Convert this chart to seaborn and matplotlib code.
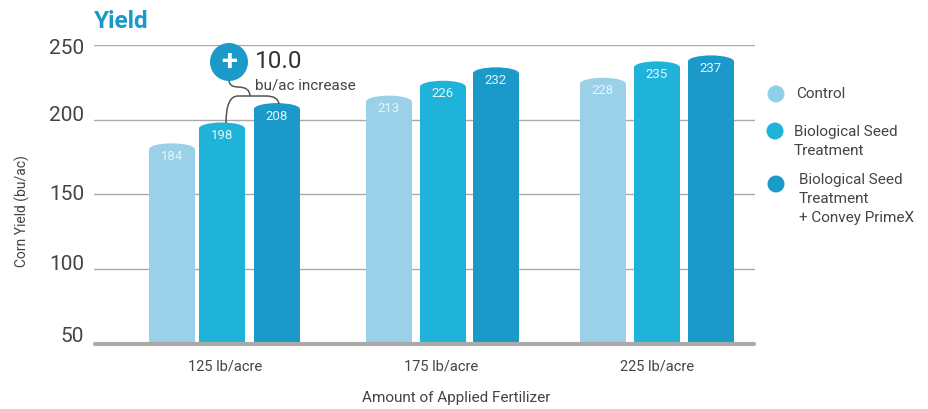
import numpy as np
import pandas as pd
import matplotlib
matplotlib.use("Agg")
import matplotlib.pyplot as plt
import seaborn as sns
from matplotlib.patches import Circle, Ellipse, PathPatch
from matplotlib.path import Path
from matplotlib.transforms import ScaledTranslation

# data
rates = ["125 lb/acre", "175 lb/acre", "225 lb/acre"]
treatments = ["Control", "Biological Seed Treatment", "Biological Seed Treatment + Convey PrimeX"]
control = [184, 213, 228]
seed = [198, 226, 235]
seed_convey = [208, 232, 237]
# the drawn bars do not quite follow their printed labels, so heights are read separately
control_top = [184, 216, 228]
seed_top = [198, 226, 239]
seed_convey_top = [211, 235, 243]
colors = ["#9ad0e8", "#20b3d9", "#1b99c8"]
yticks = [50, 100, 150, 200, 250]

df = pd.DataFrame({
    "rate": rates * 3,
    "treatment": np.repeat(treatments, 3),
    "top": control_top + seed_top + seed_convey_top,
    "label": control + seed + seed_convey,
})

sns.set_style("white")
plt.rcParams["font.family"] = ["Roboto", "DejaVu Sans"]
W, H = 929, 409
fig = plt.figure(figsize=(W / 100, H / 100), dpi=100)
ax = fig.add_axes([94 / W, 1 - 343 / H, (755 - 94) / W, (343 - 45) / H])

sns.barplot(data=df, x="rate", y="top", hue="treatment", hue_order=treatments,
            palette=colors, width=0.75, gap=0.15, saturation=1, linewidth=0,
            legend=False, ax=ax, zorder=3)
ax.set_ylim(50, 250)
ax.set_xlim(-0.606, 2.454)
sns.despine(ax=ax, left=True, bottom=True)
ax.set_yticks(yticks)
ax.grid(axis="y", color="#aaaaaa", lw=1)
ax.set_axisbelow(True)
ax.tick_params(length=0)
ax.set_xlabel("")
ax.set_ylabel("")
ax.tick_params(axis="y", labelsize=15, labelcolor="#444444", pad=7)
ax.tick_params(axis="x", labelsize=10.5, labelcolor="#444444", pad=12)

# the y labels sit a bit off their gridlines in the original
for lab, dy in zip(ax.get_yticklabels(), [8, 6, 1, 6, -2]):
    lab.set_transform(lab.get_transform() + ScaledTranslation(0, dy / 100, fig.dpi_scale_trans))

# rounded bar tops + value labels, with the uneven spacing of the original
cap = 4
px_per_unit = 216
nudge = [1, 2, 0, -3, 2, 0, -2, 1, 0]
bars = ax.patches[:9]
for bar, color, label, dx in zip(bars, np.repeat(colors, 3), df["label"], nudge):
    top = bar.get_height()
    bar.set_height(top - cap)
    bar.set_x(bar.get_x() + dx / px_per_unit)
    cx = bar.get_x() + bar.get_width() / 2
    ax.add_patch(Ellipse((cx, top - cap), bar.get_width(), cap * 2, color=color, lw=0, zorder=3))
    ax.annotate(str(label), (cx, top), xytext=(0, -9.5), textcoords="offset points",
                ha="center", va="center", color="#e6f4fa", fontsize=9.5, zorder=4)

# overlay in pixel coordinates for the annotation, legend and titles
ov = fig.add_axes([0, 0, 1, 1], facecolor="none")
ov.set_xlim(0, W)
ov.set_ylim(H, 0)
ov.axis("off")

ov.plot([95, 754], [344, 344], color="#aaaaaa", lw=3, solid_capstyle="round")
ov.text(94, 21, "Yield", color="#1b99c8", fontsize=17.5, fontweight="bold", va="center")
ov.text(22, 211, "Corn Yield (bu/ac)", rotation=90, color="#444444", fontsize=10, ha="center", va="center")
ov.text(456, 398, "Amount of Applied Fertilizer", color="#444444", fontsize=11, ha="center", va="center")

# callout
ov.add_patch(PathPatch(Path(
    [(226, 123), (226, 96), (238, 96), (250, 96), (266, 96), (278, 96), (279, 104)],
    [Path.MOVETO, Path.CURVE3, Path.CURVE3, Path.LINETO, Path.LINETO, Path.CURVE3, Path.CURVE3]),
    fc="none", ec="#555555", lw=1.1))
ov.add_patch(PathPatch(Path(
    [(229, 80), (229, 87), (238, 87), (250, 87), (250, 96)],
    [Path.MOVETO, Path.CURVE3, Path.CURVE3, Path.CURVE3, Path.CURVE3]),
    fc="none", ec="#555555", lw=1.1))
ov.add_patch(Circle((229, 62), 19, color="#1b99c8", lw=0))
ov.text(229, 62, "+", color="white", fontsize=21, fontweight="bold", ha="center", va="center")
ov.text(255, 62, "10.0", color="#333333", fontsize=17.5, va="center")
ov.text(255, 86, "bu/ac increase", color="#444444", fontsize=11, va="center")

# legend
ov.add_patch(Circle((776, 94), 8.5, color="#8fd0e8", lw=0))
ov.add_patch(Circle((775, 131), 8.5, color=colors[1], lw=0))
ov.add_patch(Circle((776, 184), 8.5, color=colors[2], lw=0))
for x, y, s in [(796, 94, "Control"), (794, 132, "Biological Seed"), (794, 151, "Treatment"),
                (799, 180, "Biological Seed"), (799, 199, "Treatment"), (799, 218, "+ Convey PrimeX")]:
    ov.text(x, y, s, color="#444444", fontsize=11, va="center")

fig.savefig("out.png", dpi=100)
